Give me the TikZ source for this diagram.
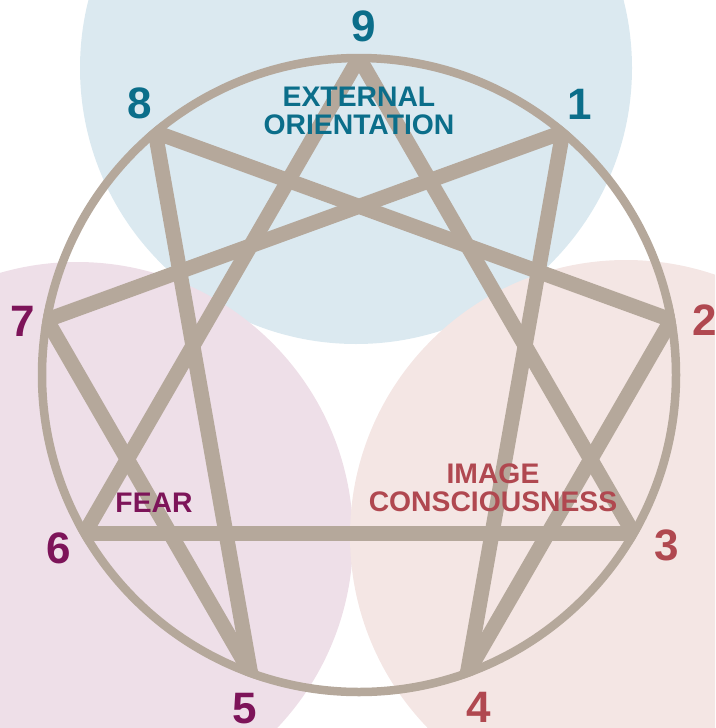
\documentclass[tikz,border=0pt]{standalone}
\usepackage{fontspec}
\setmainfont{Liberation Sans}
\definecolor{bluebg}{HTML}{DBE9F0}
\definecolor{pinkbg}{HTML}{EEDFE8}
\definecolor{salmonbg}{HTML}{F4E6E4}
\definecolor{bluetx}{HTML}{0B6E8A}
\definecolor{purpletx}{HTML}{7D1459}
\definecolor{redtx}{HTML}{B04850}
\definecolor{linec}{HTML}{B5A89B}
\begin{document}
\begin{tikzpicture}[x=1pt,y=-1pt,
  starline/.style={line width=15pt, draw=linec, shorten <=-15pt, shorten >=-15pt},
  ring/.style={line width=8.5pt, draw=linec},
  num/.style={inner sep=0pt, font=\fontsize{44}{44}\selectfont\bfseries},
  grouptext/.style={inner sep=0pt, align=center, font=\fontsize{28.3}{28}\selectfont\bfseries}]
\useasboundingbox (0,0) rectangle (715,728);
\begin{scope}
  \clip (0,0) rectangle (715,728);
  \fill[bluebg] (356,68) circle[radius=276];
  \fill[pinkbg] (77,538) circle[radius=276];
  \fill[salmonbg] (626,536) circle[radius=276];
\end{scope}
\coordinate (c) at (359,375);
\foreach \k in {1,...,9} {
  \path (c) ++(-90+40*\k:317) coordinate (p\k);
}
\begin{scope}
  \clip (c) circle[radius=321];
  \draw[starline] (p9) -- (p3);
  \draw[starline] (p3) -- (p6);
  \draw[starline] (p6) -- (p9);
  \draw[starline] (p1) -- (p4);
  \draw[starline] (p4) -- (p2);
  \draw[starline] (p2) -- (p8);
  \draw[starline] (p8) -- (p5);
  \draw[starline] (p5) -- (p7);
  \draw[starline] (p7) -- (p1);
\end{scope}
\draw[ring] (c) circle[radius=317];
\node[num, text=bluetx] (n9) at (364,26) {9};
\node[num, text=bluetx] (n8) at (140,103) {8};
\node[num, text=bluetx] (n1) at (580,104) {1};
\node[num, text=purpletx] (n7) at (23,321) {7};
\node[num, text=redtx] (n2) at (705,320) {2};
\node[num, text=purpletx] (n6) at (59,548) {6};
\node[num, text=redtx] (n3) at (667,545) {3};
\node[num, text=purpletx] (n5) at (245,709) {5};
\node[num, text=redtx] (n4) at (479,707) {4};
\node[grouptext, text=bluetx] (ext) at (359,111) {EXTERNAL\\ORIENTATION};
\node[grouptext, text=purpletx] (fear) at (154,503) {FEAR};
\node[grouptext, text=redtx] (img) at (493,488) {IMAGE\\CONSCIOUSNESS};
\end{tikzpicture}
\end{document}
